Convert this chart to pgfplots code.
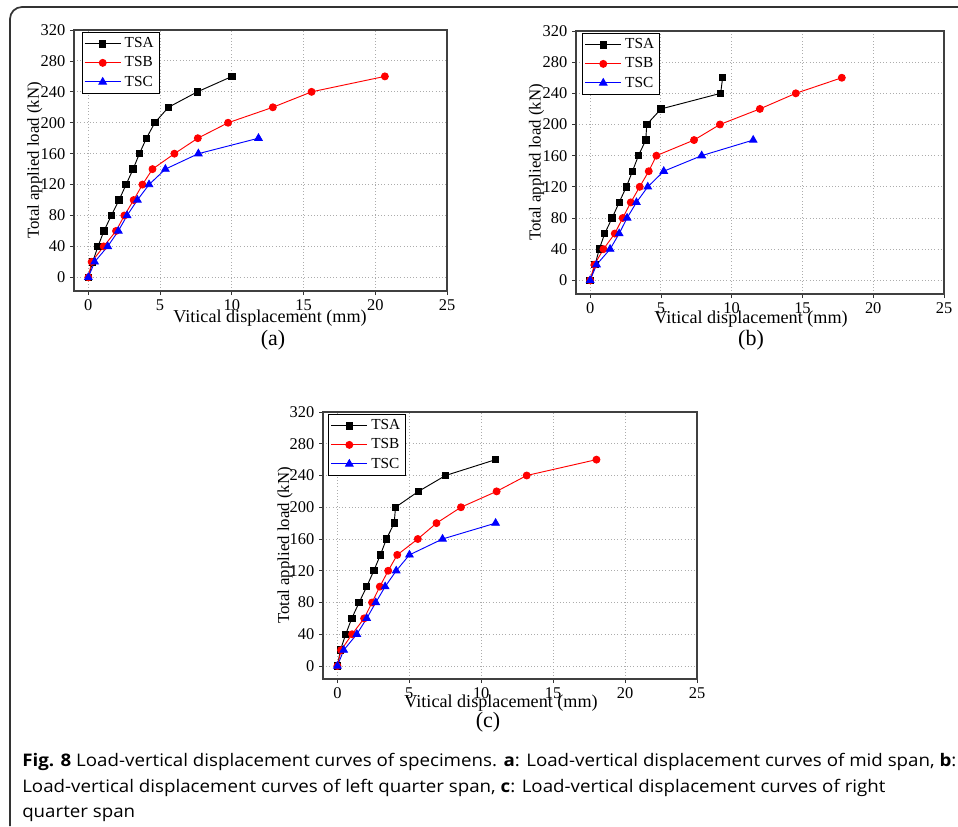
\documentclass[border=0pt]{standalone}
\usepackage{fontspec}
\setmainfont{Liberation Serif}
\newfontfamily\capfont[FakeStretch=1.08]{Open Sans}
\usepackage{pgfplots}
\pgfplotsset{compat=1.18}

\pgfplotsset{
  panel/.style={
    scale only axis,
    anchor=south west,
    xmin=-1, xmax=25, ymax=320,
    xtick={0,5,...,25},
    ytick={0,40,...,320},
    grid=major,
    grid style={gray!65, dotted, line width=0.7pt},
    tick align=outside,
    tick pos=left,
    major tick length=3pt,
    axis line style={black!75, line width=0.9pt},
    tick style={black!80, line width=0.6pt},
    /pgf/number format/assume math mode=true,
    tick label style={font=\fontsize{12.3}{12}\selectfont},
    xlabel style={font=\fontsize{13.6}{14}\selectfont},
    ylabel style={font=\fontsize{12.6}{13}\selectfont},
    xlabel={Vitical displacement (mm)},
    ylabel={Total applied load (kN)},
    legend cell align=left,
    legend style={font=\fontsize{11.5}{12}\selectfont, draw=black, line width=0.8pt,
      anchor=north west, row sep=0pt, inner sep=1.5pt,
      nodes={inner sep=2.6pt}},
    legend image code/.code={\draw[mark repeat=2,mark phase=2,#1] plot coordinates {(0cm,0cm)(0.475cm,0cm)(0.95cm,0cm)};},
  },
  sa/.style={black, line width=0.7pt, mark=square*, mark size=2.4pt, mark options={solid}},
  sb/.style={red, line width=0.7pt, mark=*, mark size=2.6pt, mark options={solid}},
  sc/.style={blue, line width=0.7pt, mark=triangle*, mark size=3.2pt, mark options={solid}},
}

\begin{document}
\begin{tikzpicture}
\path[use as bounding box] (0pt,0pt) rectangle (718.5pt,-619.5pt);
% frame
\draw[line width=1.3pt, black!80] (7.5pt,-619.5pt) -- (7.5pt,-14.25pt) arc[start angle=180,end angle=90,radius=9pt] -- (718.5pt,-5.25pt);

% (a)
\begin{axis}[panel, at={(55.5pt,-218.25pt)}, width=279.75pt, height=195.75pt, ymin=-17.7,
  xlabel style={at={(axis description cs:0.5255,-0.103)}, anchor=center},
  ylabel style={at={(axis description cs:-0.105,0.5)}, anchor=center},
  legend style={at={(axis description cs:0.0206,0.9935)}}]
\addplot[sa] coordinates {(0,0)(0.3,20)(0.67,40)(1.09,60)(1.6,80)(2.14,100)(2.63,120)(3.12,140)(3.56,160)(4.05,180)(4.63,200)(5.58,220)(7.6,240)(10.02,260)};
\addplot[sb] coordinates {(0,0)(0.23,20)(1.07,40)(1.93,60)(2.51,80)(3.16,100)(3.77,120)(4.47,140)(6.0,160)(7.63,180)(9.74,200)(12.86,220)(15.56,240)(20.67,260)};
\addplot[sc] coordinates {(0,0)(0.44,20)(1.35,40)(2.09,60)(2.7,80)(3.42,100)(4.23,120)(5.37,140)(7.67,160)(11.86,180)};
\legend{TSA,TSB,TSC}
\end{axis}

% (b)
\begin{axis}[panel, at={(432pt,-220.5pt)}, width=276pt, height=197.25pt, ymin=-17.6,
  xlabel style={at={(axis description cs:0.4755,-0.094)}, anchor=center},
  ylabel style={at={(axis description cs:-0.107,0.5)}, anchor=center},
  legend style={at={(axis description cs:0.017,0.9935)}}]
\addplot[sa] coordinates {(0,0)(0.35,20)(0.64,40)(1.03,60)(1.55,80)(2.05,100)(2.56,120)(2.99,140)(3.41,160)(3.93,180)(4.0,200)(5.01,220)(9.22,240)(9.36,260)};
\addplot[sb] coordinates {(0,0)(0.3,20)(0.94,40)(1.74,60)(2.3,80)(2.87,100)(3.5,120)(4.14,140)(4.68,160)(7.34,180)(9.17,200)(11.99,220)(14.53,240)(17.78,260)};
\addplot[sc] coordinates {(0,0)(0.45,20)(1.41,40)(2.05,60)(2.61,80)(3.27,100)(4.07,120)(5.2,140)(7.88,160)(11.52,180)};
\legend{TSA,TSB,TSC}
\end{axis}

% (c)
\begin{axis}[panel, at={(242.25pt,-509.25pt)}, width=280.5pt, height=200.25pt, ymin=-16.4,
  xlabel style={at={(axis description cs:0.476,-0.091)}, anchor=center},
  ylabel style={at={(axis description cs:-0.1016,0.5)}, anchor=center},
  legend style={at={(axis description cs:0.0142,0.9936)}}]
\addplot[sa] coordinates {(0,0)(0.21,20)(0.58,40)(1.0,60)(1.51,80)(2.04,100)(2.53,120)(2.99,140)(3.41,160)(3.95,180)(4.04,200)(5.64,220)(7.52,240)(11.0,260)};
\addplot[sb] coordinates {(0,0)(0.26,20)(1.02,40)(1.86,60)(2.41,80)(2.95,100)(3.53,120)(4.16,140)(5.59,160)(6.89,180)(8.59,200)(11.07,220)(13.16,240)(18.01,260)};
\addplot[sc] coordinates {(0,0)(0.44,20)(1.35,40)(2.04,60)(2.67,80)(3.32,100)(4.09,120)(5.01,140)(7.31,160)(11.0,180)};
\legend{TSA,TSB,TSC}
\end{axis}

% sub-captions
\node[font=\fontsize{16.5}{17}\selectfont] at (204.75pt,-255pt) {(a)};
\node[font=\fontsize{16.5}{17}\selectfont] at (563.25pt,-255pt) {(b)};
\node[font=\fontsize{16.5}{17}\selectfont] at (366pt,-541.5pt) {(c)};

% caption
\node[anchor=base west, inner sep=0pt, font=\capfont\fontsize{13}{13}\selectfont] at (16.5pt,-574.5pt)
  {\textbf{Fig. 8} Load-vertical displacement curves of specimens. \textbf{a}: Load-vertical displacement curves of mid span, \textbf{b}:};
\node[anchor=base west, inner sep=0pt, font=\capfont\fontsize{13}{13}\selectfont] at (16.5pt,-594pt)
  {Load-vertical displacement curves of left quarter span, \textbf{c}: Load-vertical displacement curves of right};
\node[anchor=base west, inner sep=0pt, font=\capfont\fontsize{13}{13}\selectfont] at (16.5pt,-612.75pt)
  {quarter span};
\end{tikzpicture}
\end{document}
